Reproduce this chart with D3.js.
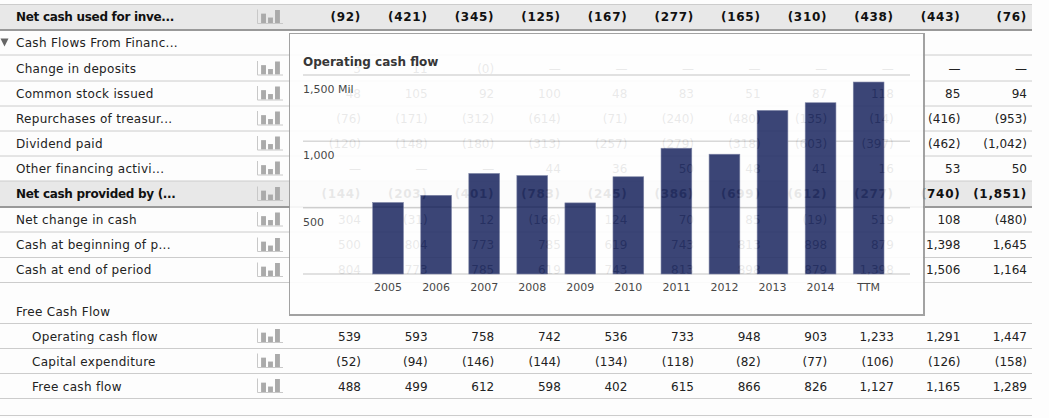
<!DOCTYPE html>
<html>
<head>
<meta charset="utf-8">
<script src="https://cdn.jsdelivr.net/npm/d3@7"></script>
<style>
  html, body { margin: 0; padding: 0; background: #fdfdfd; }
  svg { display: block; }
  text { font-family: "DejaVu Sans", sans-serif; font-size: 12px; fill: #222; }
  .label { letter-spacing: 0.3px; }
  .bold text { font-weight: bold; fill: #111; }
  .bold .label { letter-spacing: -0.3px; }
  .bold .value { letter-spacing: 0.7px; }
  .popup text { fill: #333; font-size: 11px; }
</style>
</head>
<body>
<div id="area1"></div>
<script>
// table content
var rowLabels = ["Net cash used for inve...", "Cash Flows From Financ...", "Change in deposits",
  "Common stock issued", "Repurchases of treasur...", "Dividend paid", "Other financing activi...",
  "Net cash provided by (...", "Net change in cash", "Cash at beginning of p...",
  "Cash at end of period", "Free Cash Flow", "Operating cash flow", "Capital expenditure",
  "Free cash flow"];

var netInvesting = ["(92)", "(421)", "(345)", "(125)", "(167)", "(277)", "(165)", "(310)", "(438)", "(443)", "(76)"];
var financingHeader = [];
var changeInDeposits = ["3", "11", "(0)", "—", "—", "—", "—", "—", "—", "—", "—"];
var stockIssued = ["48", "105", "92", "100", "48", "83", "51", "87", "118", "85", "94"];
var repurchases = ["(76)", "(171)", "(312)", "(614)", "(71)", "(240)", "(480)", "(135)", "(14)", "(416)", "(953)"];
var dividendPaid = ["(120)", "(148)", "(180)", "(313)", "(257)", "(279)", "(318)", "(603)", "(397)", "(462)", "(1,042)"];
var otherFinancing = ["—", "—", "—", "44", "36", "50", "48", "41", "16", "53", "50"];
var netFinancing = ["(144)", "(203)", "(401)", "(783)", "(245)", "(386)", "(699)", "(612)", "(277)", "(740)", "(1,851)"];
var netChange = ["304", "(31)", "12", "(166)", "124", "70", "85", "(19)", "519", "108", "(480)"];
var cashBegin = ["500", "804", "773", "785", "619", "743", "813", "898", "879", "1,398", "1,645"];
var cashEnd = ["804", "773", "785", "619", "743", "813", "898", "879", "1,398", "1,506", "1,164"];
var fcfHeader = [];
var operatingText = ["539", "593", "758", "742", "536", "733", "948", "903", "1,233", "1,291", "1,447"];
var capex = ["(52)", "(94)", "(146)", "(144)", "(134)", "(118)", "(82)", "(77)", "(106)", "(126)", "(158)"];
var freeCash = ["488", "499", "612", "598", "402", "615", "866", "826", "1,127", "1,165", "1,289"];

var rowValues = [netInvesting, financingHeader, changeInDeposits, stockIssued, repurchases,
  dividendPaid, otherFinancing, netFinancing, netChange, cashBegin, cashEnd, fcfHeader,
  operatingText, capex, freeCash];

// popup chart content
var chartTitle = "Operating cash flow";
var periods = ["2005", "2006", "2007", "2008", "2009", "2010", "2011", "2012", "2013", "2014", "TTM"];
var operatingCashFlow = [539, 593, 758, 742, 536, 733, 948, 903, 1233, 1291, 1447];
var yTicks = [500, 1000, 1500];

// row layout, bottom edge of every row
var rowBottoms = [29.5, 55, 81, 106, 131, 156, 181, 206.5, 232, 257.5, 282.5, 323.5, 348.5, 373.5, 398.5];
var boldRows = [0, 7];
var noIconRows = [1, 11];
var indentRows = [12, 13, 14];
var iconBars = [0.72, 0.42, 1];

var width = 1049, height = 418, tableRight = 1032;

var svg = d3.select("#area1").append("svg")
  .attr("width", width)
  .attr("height", height);

function isThick(d) { return d == 29.5 || d == 206.5; }

// grey bands behind the total rows
svg.selectAll("rect.band")
  .data([[4.5, 29.5], [181, 206.5]])
  .enter().append("rect")
  .attr("class", "band")
  .attr("x", 0)
  .attr("y", function(d) { return d[0]; })
  .attr("width", tableRight)
  .attr("height", function(d) { return d[1] - d[0]; })
  .style("fill", "#e8e8e8");

// row lines
svg.selectAll("line.row")
  .data(rowBottoms.concat([4.5, 415.5]))
  .enter().append("line")
  .attr("class", "row")
  .attr("x1", 0)
  .attr("x2", tableRight)
  .attr("y1", function(d) { return isThick(d) ? d + 0.5 : d; })
  .attr("y2", function(d) { return isThick(d) ? d + 0.5 : d; })
  .style("stroke", function(d) { return isThick(d) ? "#999" : "#ccc"; })
  .style("stroke-width", function(d) { return isThick(d) ? 2 : 1; });

// right edge of the value columns
var columnX = d3.scaleLinear().domain([0, 10]).range([361, 1027]);

var rows = svg.selectAll("g.tablerow")
  .data(rowLabels)
  .enter().append("g")
  .attr("class", function(d, i) { return boldRows.indexOf(i) >= 0 ? "tablerow bold" : "tablerow"; })
  .attr("transform", function(d, i) { return "translate(0," + (rowBottoms[i] - 12.5) + ")"; });

// the rows below the gap sit a touch lower in their cell
function textShift(i) { return i >= 11 ? 0.8 : 0; }

rows.append("text")
  .attr("class", "label")
  .attr("x", function(d, i) { return indentRows.indexOf(i) >= 0 ? 32 : 16; })
  .attr("y", function(d, i) { return textShift(i); })
  .attr("dy", "0.35em")
  .text(function(d) { return d; });

// one text per value
rows.each(function(d, i) {
  d3.select(this).selectAll("text.value")
    .data(rowValues[i])
    .enter().append("text")
    .attr("class", "value")
    .attr("x", function(v, j) { return columnX(j); })
    .attr("y", textShift(i))
    .attr("dy", "0.35em")
    .style("text-anchor", "end")
    .text(function(v) { return v; });
});

// small bar icons
var iconX = d3.scaleBand().domain(d3.range(iconBars.length)).range([259, 282]).padding(0.3);
var iconY = d3.scaleLinear().domain([0, 1]).range([6, -7]);

rows.filter(function(d, i) { return noIconRows.indexOf(i) < 0; }).each(function() {
  var icon = d3.select(this).append("g");
  icon.selectAll("rect")
    .data(iconBars)
    .enter().append("rect")
    .attr("x", function(v, j) { return iconX(j); })
    .attr("y", function(v) { return iconY(v); })
    .attr("width", iconX.bandwidth())
    .attr("height", function(v) { return iconY(0) - iconY(v); })
    .style("fill", "#aaa");
  icon.append("path")
    .attr("d", "M257.5,-7.5V6.5H283")
    .style("fill", "none")
    .style("stroke", "#c8c8c8");
});

// collapse triangle in front of the financing header
svg.append("path")
  .attr("d", "M0.5,38.5H8.5L4.5,46.5Z")
  .style("fill", "#666");

// popup, the whole group is slightly see through so the table shows behind it
var popup = svg.append("g")
  .attr("class", "popup")
  .style("opacity", 0.9);

popup.append("rect")
  .attr("x", 289.5)
  .attr("y", 33.5)
  .attr("width", 634.5)
  .attr("height", 281.5)
  .style("fill", "white")
  .style("stroke", "#999")
  .style("stroke-width", 1);

// heavier right and bottom edge
popup.append("path")
  .attr("d", "M924,33V315H289")
  .style("fill", "none")
  .style("stroke", "#999")
  .style("stroke-width", 2);

var x = d3.scaleBand()
  .domain(periods)
  .range([355.4, 901.3])
  .padding(0.36);

var y = d3.scaleLinear()
  .domain([0, 1500])
  .range([274, 75]);

// grid lines and baseline
popup.selectAll("line.grid")
  .data([0].concat(yTicks))
  .enter().append("line")
  .attr("class", "grid")
  .attr("x1", 303)
  .attr("x2", 910)
  .attr("y1", function(d) { return y(d); })
  .attr("y2", function(d) { return y(d); })
  .style("stroke", "#d4d4d4")
  .style("stroke-width", 1.5);

popup.selectAll("rect.bar")
  .data(operatingCashFlow)
  .enter().append("rect")
  .attr("class", "bar")
  .attr("x", function(d, i) { return x(periods[i]); })
  .attr("y", function(d) { return y(d); })
  .attr("width", x.bandwidth())
  .attr("height", function(d) { return y(0) - y(d); })
  .style("fill", "#273268")
  .style("stroke", "#737b9f")
  .style("stroke-width", 0.6);

popup.selectAll("text.ytick")
  .data(yTicks)
  .enter().append("text")
  .attr("class", "ytick")
  .attr("x", 303)
  .attr("y", function(d) { return y(d) + 14; })
  .attr("dy", "0.35em")
  .text(function(d) { return d == 1500 ? "1,500 Mil" : d3.format(",")(d); });

popup.selectAll("text.xtick")
  .data(periods)
  .enter().append("text")
  .attr("class", "xtick")
  .attr("x", function(d) { return x(d) + x.bandwidth() / 2; })
  .attr("y", 287)
  .attr("dy", "0.35em")
  .style("text-anchor", "middle")
  .text(function(d) { return d; });

popup.append("text")
  .attr("x", 303)
  .attr("y", 65.5)
  .style("font-weight", "bold")
  .style("font-size", "12px")
  .style("fill", "#222")
  .text(chartTitle);
</script>
</body>
</html>
